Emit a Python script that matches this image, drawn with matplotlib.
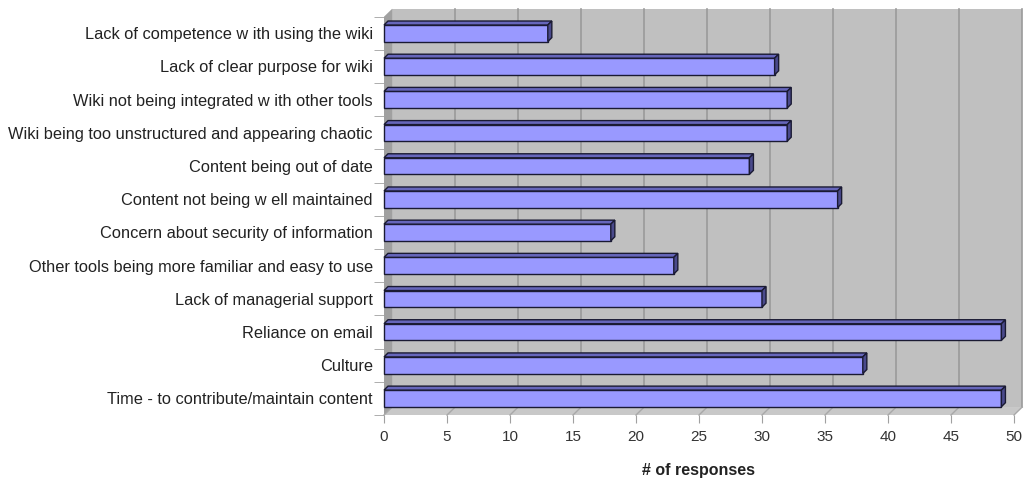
import matplotlib.pyplot as plt
from matplotlib.patches import Polygon, Rectangle

plt.rcParams['font.family'] = ['Liberation Sans', 'DejaVu Sans']

categories = [
    "Lack of competence w ith using the wiki",
    "Lack of clear purpose for wiki",
    "Wiki not being integrated w ith other tools",
    "Wiki being too unstructured and appearing chaotic",
    "Content being out of date",
    "Content not being w ell maintained",
    "Concern about security of information",
    "Other tools being more familiar and easy to use",
    "Lack of managerial support",
    "Reliance on email",
    "Culture",
    "Time - to contribute/maintain content",
]
responses = [13, 31, 32, 32, 29, 36, 18, 23, 30, 49, 38, 49]
xticks = [0, 5, 10, 15, 20, 25, 30, 35, 40, 45, 50]

fig = plt.figure(figsize=(10.24, 4.79), dpi=100)
ax = fig.add_axes([384 / 1024, 1 - 415 / 479, 630 / 1024, 398.3 / 479])
ax.set_xlim(0, 50)
ax.set_ylim(11.5, -0.5)
for s in ax.spines.values():
    s.set_visible(False)
ax.patch.set_visible(False)

# depth of the "3d" box in data units (~8 px)
dx, dy = 0.65, 0.24
# bar depth (~4 px)
bdx, bdy = 0.32, 0.12
top, bot = -0.5, 11.5

# back wall
ax.add_patch(Rectangle((dx, top - dy), 50, bot - top, facecolor='#c0c0c0',
                       edgecolor='none', clip_on=False, zorder=0))
# side wall
ax.add_patch(Polygon([(0, top), (dx, top - dy), (dx, bot - dy), (0, bot)],
                     facecolor='#a0a0a0', edgecolor='none', clip_on=False, zorder=0))
# floor
ax.add_patch(Polygon([(0, bot), (50, bot), (50 + dx, bot - dy), (dx, bot - dy)],
                     facecolor='#c8c8c8', edgecolor='none', clip_on=False, zorder=0))

for t in xticks[1:]:
    ax.plot([t + dx, t + dx], [top - dy, bot - dy], color='#9a9a9a', lw=1.2,
            clip_on=False, zorder=1)
for t in xticks:
    ax.plot([t, t + dx], [bot, bot - dy], color='#a8a8a8', lw=1,
            clip_on=False, zorder=1)

h = 0.5
for i, v in enumerate(responses):
    y0, y1 = i - h / 2, i + h / 2
    ax.add_patch(Rectangle((0, y0), v, h, facecolor='#9999ff', edgecolor='#1a1a33',
                           lw=1, clip_on=False, zorder=3))
    ax.add_patch(Polygon([(0, y0), (v, y0), (v + bdx, y0 - bdy), (bdx, y0 - bdy)],
                         facecolor='#6666bb', edgecolor='#1a1a33', lw=1,
                         clip_on=False, zorder=3))
    ax.add_patch(Polygon([(v, y0), (v + bdx, y0 - bdy), (v + bdx, y1 - bdy), (v, y1)],
                         facecolor='#4a4a8c', edgecolor='#1a1a33', lw=1,
                         clip_on=False, zorder=3))

ax.set_xticks(xticks)
ax.set_xticklabels([str(t) for t in xticks], fontsize=11, color='#333333')
ax.tick_params(axis='x', length=6, color='#a0a0a0', pad=5)
ax.set_yticks(range(len(categories)))
ax.set_yticklabels(categories, fontsize=11.8, color='#222222')
ax.set_yticks([k - 0.5 for k in range(len(categories) + 1)], minor=True)
ax.tick_params(axis='y', which='major', length=0, pad=8)
ax.tick_params(axis='y', which='minor', length=7, color='#a0a0a0')

fig.text(698 / 1024, 1 - 470 / 479, "# of responses", fontsize=11.5, fontweight='bold',
         ha='center', va='center', color='#222222')

fig.savefig('out.png', dpi=100)
